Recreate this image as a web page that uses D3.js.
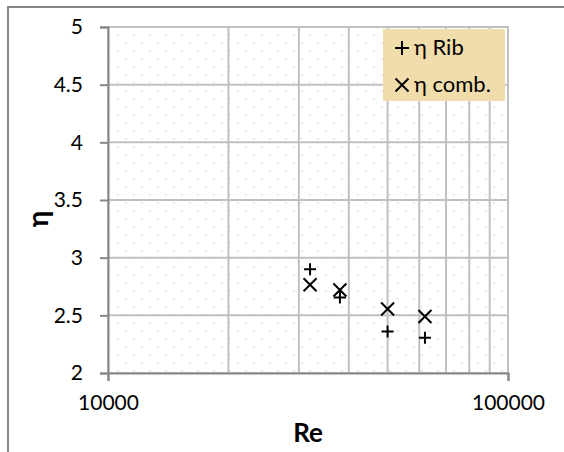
<!DOCTYPE html>
<html>
<head>
<meta charset="utf-8">
<script src="https://cdn.jsdelivr.net/npm/d3@7"></script>
<style>
  body { margin: 0; background: #fff; }
  text { font-family: Lato, "Open Sans", sans-serif; fill: #000; }
</style>
</head>
<body>
<script>
var w = 564;
var h = 452;

// data
var reValues = [32000, 38000, 50000, 62000];
var etaRib = [2.90, 2.655, 2.36, 2.305];
var etaComb = [2.765, 2.72, 2.555, 2.49];
var yTicks = [2, 2.5, 3, 3.5, 4, 4.5, 5];
var xTicks = [10000, 100000];
var xGrid = [20000, 30000, 40000, 50000, 60000, 70000, 80000, 90000];
var seriesNames = ["η Rib", "η comb."];

var pLeft = 108, pRight = 508, pTop = 27, pBottom = 373;

var xScale = d3.scaleLog()
  .domain([10000, 100000])
  .range([pLeft, pRight]);

var yScale = d3.scaleLinear()
  .domain([2, 5])
  .range([pBottom, pTop]);

var svg = d3.select("body")
  .append("svg")
  .attr("width", w)
  .attr("height", h);

var defs = svg.append("defs");
var pat = defs.append("pattern")
  .attr("id", "dots")
  .attr("patternUnits", "userSpaceOnUse")
  .attr("x", pLeft + 9)
  .attr("y", pTop + 7)
  .attr("width", 16)
  .attr("height", 16);
pat.append("rect").attr("x", 0).attr("y", 0).attr("width", 1.5).attr("height", 1.5).attr("fill", "#dcdcdc");
pat.append("rect").attr("x", 8).attr("y", 8).attr("width", 1.5).attr("height", 1.5).attr("fill", "#dcdcdc");

// outer chart border
svg.append("rect")
  .attr("x", 8)
  .attr("y", 7)
  .attr("width", 600)
  .attr("height", 500)
  .attr("fill", "none")
  .attr("stroke", "#878787")
  .attr("stroke-width", 2);

// plot area with dotted fill
svg.append("rect")
  .attr("x", pLeft)
  .attr("y", pTop)
  .attr("width", pRight - pLeft)
  .attr("height", pBottom - pTop)
  .attr("fill", "url(#dots)")
  .attr("stroke", "#c0c0c0")
  .attr("stroke-width", 2);

// gridlines
svg.selectAll(".vgrid")
  .data(xGrid)
  .enter()
  .append("line")
  .attr("x1", function(d) { return xScale(d); })
  .attr("x2", function(d) { return xScale(d); })
  .attr("y1", pTop)
  .attr("y2", pBottom)
  .attr("stroke", "#c0c0c0")
  .attr("stroke-width", 2);

svg.selectAll(".hgrid")
  .data(yTicks.slice(1))
  .enter()
  .append("line")
  .attr("x1", pLeft)
  .attr("x2", pRight)
  .attr("y1", function(d) { return yScale(d); })
  .attr("y2", function(d) { return yScale(d); })
  .attr("stroke", "#c0c0c0")
  .attr("stroke-width", 2);

// axes
var yAxis = d3.axisLeft(yScale)
  .tickValues(yTicks)
  .tickSize(8)
  .tickPadding(17)
  .tickFormat(function(d) { return d; });

var xAxis = d3.axisBottom(xScale)
  .tickValues(xTicks)
  .tickSize(8)
  .tickPadding(14)
  .tickFormat(function(d) { return d; });

var gy = svg.append("g")
  .attr("transform", "translate(" + pLeft + ",0)")
  .call(yAxis);

var gx = svg.append("g")
  .attr("transform", "translate(0," + pBottom + ")")
  .call(xAxis);

[gx, gy].forEach(function(g) {
  g.select(".domain").attr("stroke", "#878787").attr("stroke-width", 2);
  g.selectAll(".tick line").attr("stroke", "#878787").attr("stroke-width", 2);
  g.selectAll(".tick text")
    .attr("fill", "#000")
    .style("font-size", "21px")
    .style("font-family", "Lato, 'Open Sans', sans-serif");
});

// axis titles
svg.append("text")
  .attr("x", 308)
  .attr("y", 442)
  .attr("text-anchor", "middle")
  .style("font-size", "26px")
  .style("font-weight", "bold")
  .text("Re");

svg.append("text")
  .attr("transform", "translate(48,219) rotate(-90)")
  .attr("text-anchor", "middle")
  .style("font-size", "28px")
  .style("font-weight", "bold")
  .text("η");

// markers
function plusPath(s) {
  return "M" + (-s) + ",0H" + s + "M0," + (-s) + "V" + s;
}
function crossPath(s) {
  return "M" + (-s) + "," + (-s) + "L" + s + "," + s + "M" + (-s) + "," + s + "L" + s + "," + (-s);
}

svg.selectAll(".rib")
  .data(etaRib)
  .enter()
  .append("path")
  .attr("class", "rib")
  .attr("d", plusPath(6))
  .attr("transform", function(d, i) {
    return "translate(" + xScale(reValues[i]) + "," + yScale(d) + ")";
  })
  .attr("stroke", "#000")
  .attr("stroke-width", 2)
  .attr("fill", "none");

svg.selectAll(".comb")
  .data(etaComb)
  .enter()
  .append("path")
  .attr("class", "comb")
  .attr("d", crossPath(6.5))
  .attr("transform", function(d, i) {
    return "translate(" + xScale(reValues[i]) + "," + yScale(d) + ")";
  })
  .attr("stroke", "#000")
  .attr("stroke-width", 2)
  .attr("fill", "none");

// legend
var lg = svg.append("g");
lg.append("rect")
  .attr("x", 383)
  .attr("y", 29)
  .attr("width", 122)
  .attr("height", 72)
  .attr("fill", "#f1dcac");

var legItems = lg.selectAll(".leg")
  .data(seriesNames)
  .enter()
  .append("g")
  .attr("transform", function(d, i) {
    return "translate(402," + (48 + i * 37) + ")";
  });

legItems.append("path")
  .attr("d", function(d, i) { return i === 0 ? plusPath(7) : crossPath(6.5); })
  .attr("stroke", "#000")
  .attr("stroke-width", 2)
  .attr("fill", "none");

legItems.append("text")
  .attr("x", 12)
  .attr("y", 7)
  .style("font-size", "22px")
  .text(function(d) { return d; });
</script>
</body>
</html>
